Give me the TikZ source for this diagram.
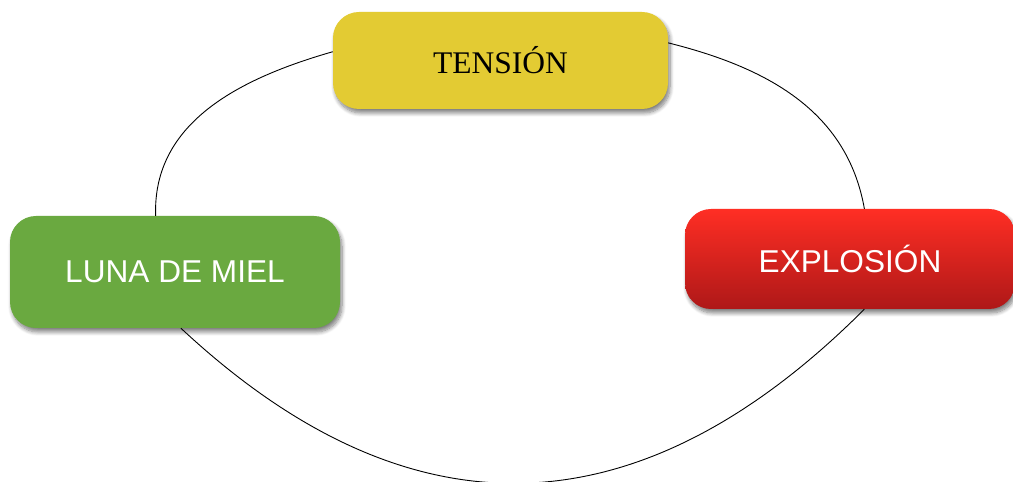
\documentclass[tikz,border=0pt]{standalone}
\usepackage{fontspec}
\setmainfont{Liberation Serif}
\setsansfont{Liberation Sans}
\usetikzlibrary{shadows.blur}
\definecolor{tyellow}{HTML}{E3CB33}
\definecolor{lgreen}{HTML}{6AA940}
\definecolor{ered}{HTML}{FF2E24}
\definecolor{edark}{HTML}{AE1818}
\begin{document}
\begin{tikzpicture}[x=1pt,y=1pt,
  box/.style={rounded corners=26pt, inner sep=0pt,
    blur shadow={shadow xshift=2pt, shadow yshift=-4pt, shadow blur radius=4pt,
      shadow blur steps=8, shadow opacity=50}},
  link/.style={draw=black, line width=0.9pt}]
\useasboundingbox (0,0) rectangle (1013,482);
\node[box, fill=tyellow, minimum width=335pt, minimum height=97pt,
  font=\fontsize{31.5}{36}\selectfont, text=black] (T) at (500.5,421.5) {TENSIÓN};
\node[box, fill=lgreen, minimum width=330pt, minimum height=112pt,
  font=\sffamily\fontsize{31.6}{36}\selectfont, text=white] (L) at (175,210) {LUNA DE MIEL};
\node[box, top color=ered, bottom color=edark, minimum width=330pt, minimum height=100pt,
  font=\sffamily\fontsize{31.6}{36}\selectfont, text=white] (E) at (850,223) {EXPLOSIÓN};
\draw[link] (T.177) to[out=196, in=92, looseness=1] (L.109);
\draw[link] (T.6) to[out=-14, in=100, looseness=1] (E.74);
\draw[link] (L.276) to[out=-43, in=-135, looseness=1.18] (E.286);
\end{tikzpicture}
\end{document}
